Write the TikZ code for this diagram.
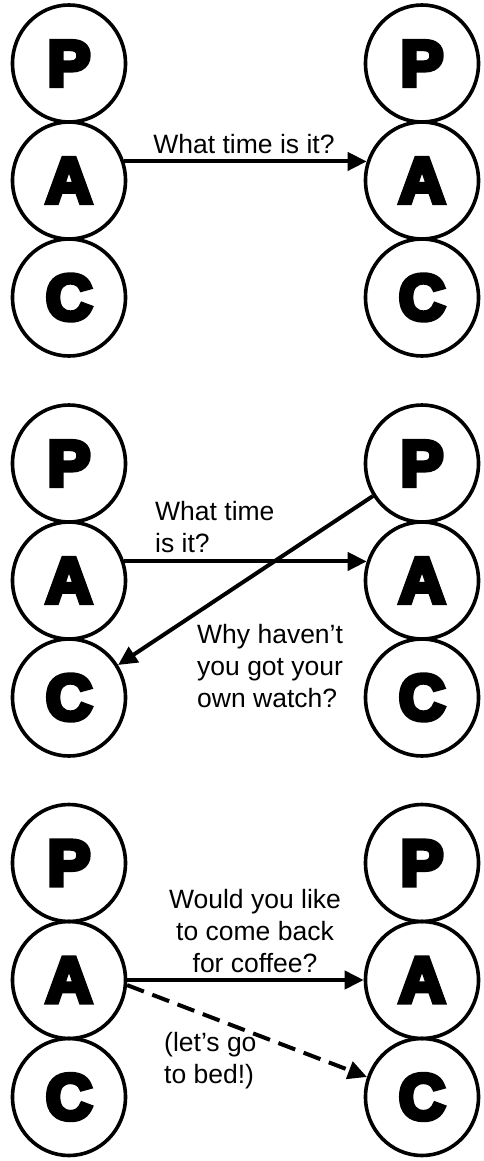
\documentclass[tikz,border=0pt]{standalone}
\usepackage{fontspec}
\setmainfont{Liberation Sans}
\newfontfamily\heavyfont[FakeBold=8]{Liberation Sans Bold}
\usetikzlibrary{shapes.geometric,arrows.meta}
\begin{document}
\begin{tikzpicture}[x=1pt,y=-1pt,
  pac/.style={ellipse, draw, line width=3.6pt, minimum width=113pt, minimum height=117pt,
    inner sep=0pt, font=\heavyfont\fontsize{64}{64}\selectfont},
  msg/.style={line width=4pt, -{Triangle[length=19pt,width=18pt]}},
  lbl/.style={font=\fontsize{26.5}{32}\selectfont, inner sep=0pt, align=left}]
\useasboundingbox (0,0) rectangle (484,1161);
\foreach \i/\o in {1/0,2/400,3/799.5}{
  \node[pac] (Pl\i) at (69,63.5+\o) {P};
  \node[pac] (Al\i) at (69,180.5+\o) {A};
  \node[pac] (Cl\i) at (69,297.5+\o) {C};
  \node[pac] (Pr\i) at (422,63.5+\o) {P};
  \node[pac] (Ar\i) at (422,180.5+\o) {A};
  \node[pac] (Cr\i) at (422,297.5+\o) {C};
}
% panel 1
\draw[msg] (Al1.19) -- (Ar1.161);
\node[lbl, anchor=base] (t1) at (244,154) {What time is it?};
% panel 2
\draw[msg] (Al2.19) -- (Ar2.161);
\node[lbl, anchor=base west] (t2) at (155,552) {What time\\is it?};
\draw[msg] (Pr2) -- (Cl2);
\node[lbl, anchor=base west] (t3) at (197,707) {Why haven’t\\you got your\\own watch?};
% panel 3
\draw[msg] (Al3) -- (Ar3);
\node[lbl, align=center, anchor=base] (t4) at (255,972) {Would you like\\to come back\\for coffee?};
\draw[msg, dash pattern=on 18pt off 9pt] (Al3.-5) -- (Cr3.160);
\node[lbl, anchor=base west] (t5) at (164,1083) {(let’s go\\to bed!)};
\end{tikzpicture}
\end{document}
